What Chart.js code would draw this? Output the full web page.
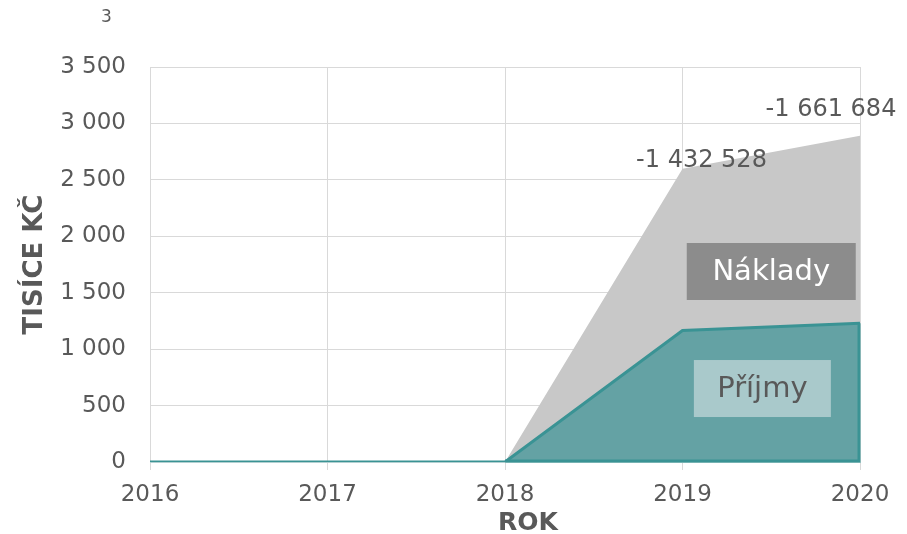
<!DOCTYPE html>
<html lang="cs">
<head>
<meta charset="utf-8">
<title>Příjmy a náklady</title>
<script src="https://cdn.jsdelivr.net/npm/chart.js@4"></script>
<style>
  html, body { margin: 0; padding: 0; background: #fff; }
  #wrap { position: relative; width: 907px; height: 534px; }
  #note {
    position: absolute; left: 101px; top: 6px;
    font: 17px "DejaVu Sans", sans-serif; color: #595959;
  }
</style>
</head>
<body>
<div id="wrap">
  <div id="note">3</div>
  <canvas id="chart" width="907" height="534"></canvas>
</div>
<script>
const years = ["2016", "2017", "2018", "2019", "2020"];
// income in thousands CZK
const prijmy = [0, 0, 0, 1165, 1230];
// cost balance in CZK (negative), stacked on top of income
const nakladyKc = [0, 0, 0, -1432528, -1661684];
const naklady = nakladyKc.map((v) => -v / 1000);
const yTicks = [0, 500, 1000, 1500, 2000, 2500, 3000, 3500];

const textColor = "#595959";
const gridColor = "#d9d9d9";
const tealLine = "#3a9394";
const font = "DejaVu Sans";

function spaced(n) {
  const s = String(Math.abs(n)).replace(/\B(?=(\d{3})+(?!\d))/g, " ");
  return (n < 0 ? "-" : "") + s;
}

// data labels for the cost series, nudged next to the stack top
const labelOffsets = [null, null, null, [19, -8], [-29, -26]];

// series name boxes, placed in axis units
const nameBoxes = [
  { text: "Náklady", x: 3.5, y: 1688, w: 169, h: 57, fill: "#8c8c8c", color: "#ffffff" },
  { text: "Příjmy", x: 3.45, y: 651, w: 137, h: 57, fill: "#a9c9cb", color: "#595959" },
];

const annotations = {
  id: "annotations",
  afterDatasetsDraw(chart) {
    const { ctx, chartArea, scales } = chart;
    const income = chart.getDatasetMeta(0).data;
    const costs = chart.getDatasetMeta(1).data;
    const base = scales.y.getPixelForValue(0);
    ctx.save();

    // close the income outline along the right edge and the baseline
    const last = income[income.length - 1];
    ctx.strokeStyle = tealLine;
    ctx.lineWidth = 3;
    ctx.lineJoin = "miter";
    ctx.beginPath();
    ctx.moveTo(last.x - 1, last.y);
    ctx.lineTo(last.x - 1, base - 1);
    ctx.lineTo(income[2].x, base - 1);
    ctx.stroke();

    ctx.textAlign = "center";
    ctx.textBaseline = "middle";
    ctx.font = `24px "${font}"`;
    ctx.fillStyle = textColor;
    nakladyKc.forEach((v, i) => {
      const off = labelOffsets[i];
      if (!off) return;
      const pt = costs[i];
      ctx.fillText(spaced(v), pt.x + off[0], pt.y + off[1]);
    });

    ctx.font = `29px "${font}"`;
    nameBoxes.forEach((b) => {
      const cx = scales.x.getPixelForValue(b.x);
      const cy = scales.y.getPixelForValue(b.y);
      ctx.fillStyle = b.fill;
      ctx.fillRect(cx - b.w / 2, cy - b.h / 2, b.w, b.h);
      ctx.fillStyle = b.color;
      ctx.fillText(b.text, cx, cy + 1);
    });

    // x axis title
    ctx.font = `bold 25px "${font}"`;
    ctx.fillStyle = textColor;
    ctx.fillText("ROK", (chartArea.left + chartArea.right) / 2 + 23, 523);
    ctx.restore();
  },
};

new Chart(document.getElementById("chart"), {
  type: "line",
  data: {
    labels: years,
    datasets: [
      {
        label: "Příjmy",
        data: prijmy,
        borderColor: tealLine,
        borderWidth: 3,
        backgroundColor: "#64a2a4",
        fill: "origin",
        pointRadius: 0,
        tension: 0,
      },
      {
        label: "Náklady",
        data: naklady,
        borderWidth: 0,
        borderColor: "rgba(0,0,0,0)",
        backgroundColor: "#c8c8c8",
        fill: "-1",
        pointRadius: 0,
        tension: 0,
      },
    ],
  },
  options: {
    responsive: false,
    animation: false,
    layout: { padding: { top: 67, right: 47, left: 0, bottom: 0 } },
    plugins: {
      legend: { display: false },
      tooltip: { enabled: false },
    },
    scales: {
      x: {
        type: "category",
        offset: false,
        grid: { color: gridColor, drawTicks: true, tickLength: 8 },
        border: { color: "#b3d0d1", width: 1 },
        ticks: {
          color: textColor,
          font: { family: font, size: 23 },
          padding: 11,
          maxRotation: 0,
        },
        afterFit(scale) {
          scale.height = 72;
        },
      },
      y: {
        stacked: true,
        min: 0,
        max: 3500,
        grid: { color: gridColor, drawTicks: false },
        border: { display: false },
        afterBuildTicks(scale) {
          scale.ticks = yTicks.map((v) => ({ value: v }));
        },
        ticks: {
          color: textColor,
          font: { family: font, size: 23 },
          padding: 24,
          callback: (v) => spaced(v),
        },
        title: {
          display: true,
          text: "TISÍCE KČ",
          color: textColor,
          font: { family: font, size: 26, weight: "bold", lineHeight: 1 },
          padding: { top: 22, bottom: 0 },
        },
        afterFit(scale) {
          scale.width = 150;
        },
      },
    },
  },
  plugins: [annotations],
});
</script>
</body>
</html>
